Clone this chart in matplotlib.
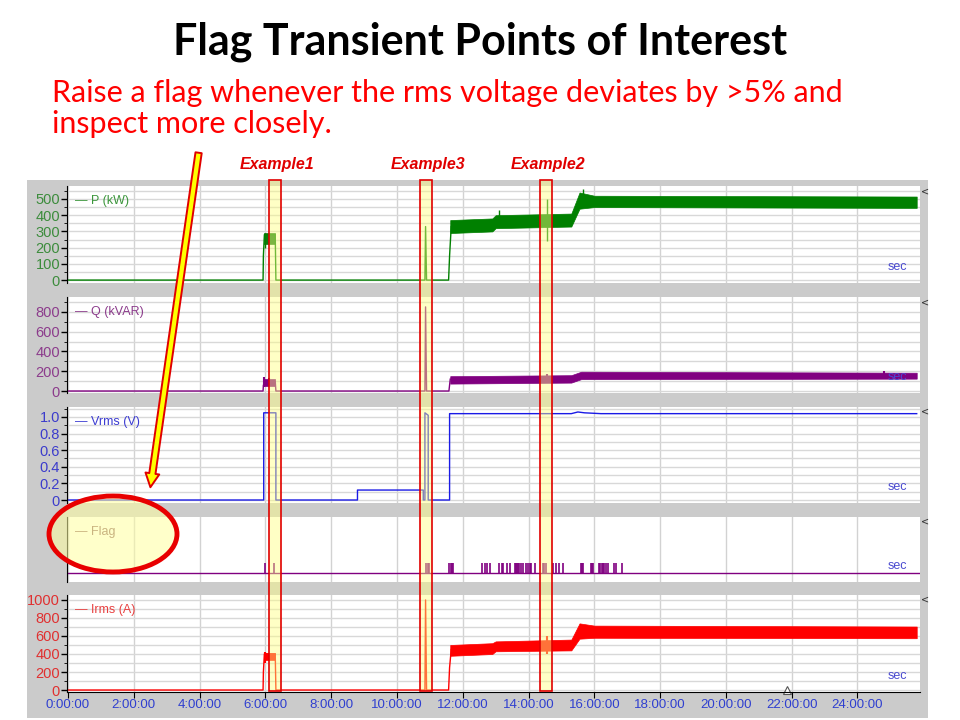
import matplotlib.pyplot as plt
import matplotlib.transforms as mtransforms
from matplotlib.patches import Rectangle, Ellipse, FancyArrowPatch
from matplotlib.ticker import MultipleLocator

# ---- data (hours since 0:00:00) ----
x_ticks = list(range(0, 25, 2))
x_labels = [f"{h}:00:00" for h in x_ticks]

# thin trace parts
p_t = [0, 5.93, 5.94, 5.97, 6.30, 6.32, 10.85, 10.87, 10.90, 11.57, 11.60, 11.65]
p_v = [0, 0, 150, 280, 280, 0, 0, 330, 0, 0, 150, 330]
# noisy band envelopes
p_blk_t = [5.97, 6.28]
p_blk_lo = [225, 225]
p_blk_hi = [290, 290]
p_band_t = [11.62, 12.9, 13.0, 15.3, 15.55, 16.0, 25.8]
p_band_lo = [290, 300, 320, 330, 440, 450, 445]
p_band_hi = [370, 380, 400, 410, 540, 520, 515]
p_spk_t = [6.0, 13.1, 14.55, 15.65]
p_spk_lo = [200, 360, 240, 450]
p_spk_hi = [290, 430, 500, 560]

q_t = [0, 5.93, 5.94, 6.30, 6.32, 10.85, 10.87, 10.90, 11.58, 11.62]
q_v = [0, 0, 60, 100, 0, 0, 850, 0, 0, 120]
q_blk_t = [5.97, 6.28]
q_blk_lo = [50, 50]
q_blk_hi = [120, 120]
q_band_t = [11.62, 15.3, 15.6, 25.8]
q_band_lo = [75, 85, 120, 125]
q_band_hi = [150, 160, 195, 185]
q_spk_t = [5.97, 6.1, 14.55, 24.8]
q_spk_lo = [40, 60, 90, 120]
q_spk_hi = [140, 130, 170, 200]

v_t = [0, 5.95, 5.95, 6.32, 6.32, 8.8, 8.8, 10.8, 10.8, 10.85, 10.85, 10.95, 10.95,
       11.6, 11.6, 15.3, 15.5, 15.7, 16.2, 25.8]
v_v = [0, 0, 1.05, 1.05, 0, 0, 0.12, 0.12, 0, 0, 1.05, 1.02, 0,
       0, 1.04, 1.04, 1.06, 1.05, 1.04, 1.04]

flag_t = [5.99, 6.26, 10.88, 10.93, 10.97, 11.59, 11.63, 11.67, 11.71,
          12.60, 12.67, 12.75, 12.83, 13.09, 13.18, 13.23, 13.35, 13.43,
          13.59, 13.62, 13.65, 13.68, 13.71, 13.76, 13.82, 13.92, 13.97,
          14.04, 14.09, 14.19, 14.43, 14.48, 14.53, 14.73, 14.83, 14.93, 15.06,
          15.59, 15.62, 15.66, 15.90, 15.93, 15.97, 16.14, 16.18, 16.22, 16.26,
          16.29, 16.37, 16.42, 16.60, 16.66, 16.83]

i_t = [0, 5.93, 5.94, 5.97, 6.30, 6.32, 10.85, 10.87, 10.90, 11.57, 11.60, 11.65]
i_v = [0, 0, 200, 400, 400, 0, 0, 1000, 0, 0, 250, 450]
i_blk_t = [5.97, 6.28]
i_blk_lo = [330, 330]
i_blk_hi = [410, 410]
i_band_t = [11.62, 12.9, 13.0, 15.3, 15.55, 16.0, 25.8]
i_band_lo = [380, 400, 430, 440, 570, 580, 575]
i_band_hi = [500, 520, 540, 560, 740, 715, 705]
i_spk_t = [6.0, 14.55]
i_spk_lo = [300, 400]
i_spk_hi = [420, 600]

boxes = [(6.11, 6.47, "Example1"), (10.70, 11.06, "Example3"), (14.35, 14.71, "Example2")]

# ---- figure ----
fig = plt.figure(figsize=(9.6, 7.2), dpi=100)
W, H = 960, 720


def fx(px):
    return px / W


def fy(py):
    return 1 - py / H


fig.text(0.5, fy(55), "Flag Transient Points of Interest", ha="center", va="baseline",
         fontsize=31, fontweight="bold", family="Lato")
fig.text(fx(52), fy(102), "Raise a flag whenever the rms voltage deviates by >5% and",
         ha="left", va="baseline", fontsize=22, color="#ff0000", family="Lato")
fig.text(fx(52), fy(133), "inspect more closely.",
         ha="left", va="baseline", fontsize=22, color="#ff0000", family="Lato")

# gray chart background
fig.patches.append(Rectangle((fx(27), fy(718)), fx(928 - 27), (718 - 180) / H,
                             transform=fig.transFigure, facecolor="#cbcbcb",
                             edgecolor="none", zorder=-5))

x_left, x_right = 67, 920
panels = [  # top px, bottom px
    (186, 283), (297, 393), (407, 503), (517, 582), (595, 692)
]
axes = []
for top, bot in panels:
    ax = fig.add_axes([fx(x_left), fy(bot), fx(x_right - x_left), (bot - top) / H])
    ax.set_xlim(-0.03, 25.9)
    ax.set_facecolor("white")
    for s in ["top", "right", "bottom"]:
        ax.spines[s].set_visible(False)
    ax.spines["left"].set_color("black")
    ax.xaxis.set_major_locator(MultipleLocator(2))
    ax.grid(axis="x", which="major", color="#d2d2d2", lw=1)
    ax.tick_params(axis="x", bottom=False, labelbottom=False)
    ax.tick_params(axis="y", length=4, width=1, labelsize=10.5, pad=1)
    ax.tick_params(axis="y", which="minor", length=2)
    ax.set_axisbelow(True)
    axes.append(ax)
    fig.text(fx(925), fy(top + 5), "<", ha="center", va="center", fontsize=7, color="#333333")

axP, axQ, axV, axF, axI = axes
chart_font = "Liberation Sans"

# P
axP.set_ylim(-18, 580)
axP.yaxis.set_major_locator(MultipleLocator(100))
axP.yaxis.set_minor_locator(MultipleLocator(50))
axP.grid(axis="y", which="both", color="#d8d8d8", lw=1)
axP.plot(p_t, p_v, color="#008000", lw=1)
axP.fill_between(p_blk_t, p_blk_lo, p_blk_hi, color="#117711", lw=0.5)
axP.fill_between(p_band_t, p_band_lo, p_band_hi, color="#008000", lw=0.5)
axP.vlines(p_spk_t, p_spk_lo, p_spk_hi, color="#008000", lw=1)

# Q
axQ.set_ylim(-20, 950)
axQ.yaxis.set_major_locator(MultipleLocator(200))
axQ.yaxis.set_minor_locator(MultipleLocator(100))
axQ.grid(axis="y", which="both", color="#d8d8d8", lw=1)
axQ.plot(q_t, q_v, color="#800080", lw=1)
axQ.fill_between(q_blk_t, q_blk_lo, q_blk_hi, color="#800080", lw=0.5)
axQ.fill_between(q_band_t, q_band_lo, q_band_hi, color="#800080", lw=0.5)
axQ.vlines(q_spk_t, q_spk_lo, q_spk_hi, color="#800080", lw=1.5)

# Vrms
axV.set_ylim(-0.036, 1.12)
axV.yaxis.set_major_locator(MultipleLocator(0.2))
axV.yaxis.set_minor_locator(MultipleLocator(0.1))
axV.grid(axis="y", which="both", color="#d8d8d8", lw=1)
axV.plot(v_t, v_v, color="#1a1ae6", lw=1)
axV.set_yticks([0, 0.2, 0.4, 0.6, 0.8, 1.0])
axV.set_yticklabels(["0", "0.2", "0.4", "0.6", "0.8", "1.0"])

# Flag
axF.set_ylim(-0.9, 5.6)
axF.set_yticks([])
axF.axhline(0, color="#800080", lw=1)
axF.vlines(flag_t, 0, 1, color="#800080", lw=1.2)

# Irms
axI.set_ylim(-22, 1055)
axI.yaxis.set_major_locator(MultipleLocator(200))
axI.yaxis.set_minor_locator(MultipleLocator(100))
axI.grid(axis="y", which="both", color="#d8d8d8", lw=1)
axI.plot(i_t, i_v, color="#ff0000", lw=1)
axI.fill_between(i_blk_t, i_blk_lo, i_blk_hi, color="#ff0000", lw=0.5)
axI.fill_between(i_band_t, i_band_lo, i_band_hi, color="#ff0000", lw=0.5)
axI.vlines(i_spk_t, i_spk_lo, i_spk_hi, color="#ff0000", lw=1.5)
axI.spines["bottom"].set_visible(True)
axI.tick_params(axis="x", bottom=True, labelbottom=True, length=4, labelsize=9.5,
                labelcolor="#2f3fd0", pad=1)
axI.set_xticks(x_ticks)
axI.set_xticklabels(x_labels, family=chart_font)
axI.plot([21.85], [-5], marker="^", ms=6, mfc="white", mec="#555555", mew=0.8, clip_on=False)

legend_info = [
    (axP, "P (kW)", "#3c963c", "#3c8c3c"),
    (axQ, "Q (kVAR)", "#8c3c8c", "#8c3c8c"),
    (axV, "Vrms (V)", "#3c3cd2", "#3c3ccc"),
    (axF, "Flag", "#8a5a5a", None),
    (axI, "Irms (A)", "#e84040", "#e03030"),
]
for (ax, name, c_leg, c_tick), (top, bot) in zip(legend_info, panels):
    ax.text(fx(75), fy(top + 15), "— " + name, transform=fig.transFigure, color=c_leg,
            fontsize=9, va="center", ha="left", family=chart_font)
    ax.text(fx(897), fy(bot - 16), "sec", transform=fig.transFigure, color="#4a4ad0",
            fontsize=9, va="center", ha="center", family=chart_font)
    if c_tick:
        ax.tick_params(axis="y", labelcolor=c_tick)
        for lab in ax.get_yticklabels():
            lab.set_family(chart_font)

# highlight boxes + labels
blend = mtransforms.blended_transform_factory(axI.transData, fig.transFigure)
for t0, t1, name in boxes:
    fig.patches.append(Rectangle((t0, fy(691)), t1 - t0, (691 - 180) / H, transform=blend,
                                 facecolor="#ffff80", alpha=0.45, edgecolor="none", zorder=2))
    fig.patches.append(Rectangle((t0, fy(691)), t1 - t0, (691 - 180) / H, transform=blend,
                                 facecolor="none", edgecolor="#e00000", lw=1.2, zorder=3))
    fig.text((t0 + t1) / 2 + 0.05, fy(164), name, transform=blend, ha="center", va="center",
             color="#e00000", fontsize=11.5, fontweight="bold", fontstyle="italic",
             family=chart_font)

# callout: ellipse and arrow
fig.patches.append(Ellipse((fx(113), fy(534)), fx(128), 76 / H, transform=fig.transFigure,
                           facecolor="#ffffa0", alpha=0.55, edgecolor="none", zorder=2))
fig.patches.append(Ellipse((fx(113), fy(534)), fx(128), 76 / H, transform=fig.transFigure,
                           facecolor="none", edgecolor="#e80000", lw=3.5, zorder=3))
arrow = FancyArrowPatch((fx(199), fy(150)), (fx(150), fy(490)), transform=fig.transFigure,
                        arrowstyle="simple,head_width=10,head_length=10,tail_width=4.5",
                        facecolor="#ffff00", edgecolor="#e00000", lw=1.4, zorder=4,
                        mutation_scale=1)
fig.patches.append(arrow)

fig.savefig("out.png", dpi=100)
